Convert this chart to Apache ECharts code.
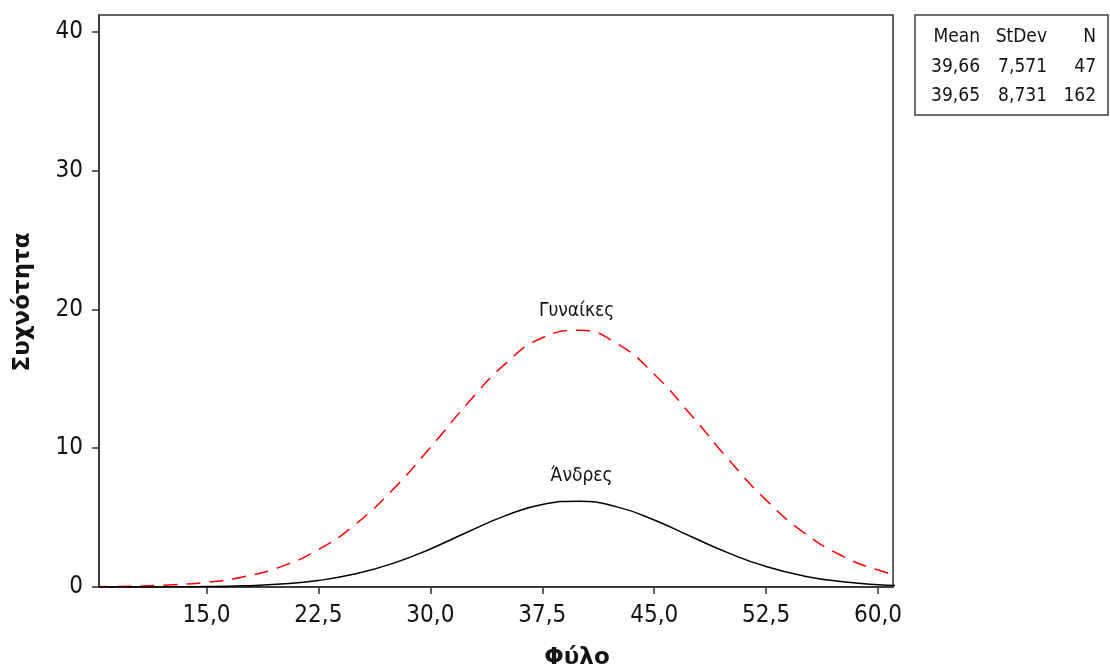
<!DOCTYPE html>
<html>
<head>
<meta charset="utf-8">
<title>Συχνότητα ανά Φύλο</title>
<script src="https://cdn.jsdelivr.net/npm/echarts@6/dist/echarts.min.js"></script>
<style>
  html, body { margin: 0; padding: 0; background: #fff; }
  #chart { width: 1110px; height: 671px; }
</style>
</head>
<body>
<div id="chart"></div>
<script>
// Ages at which the fitted frequency curves are sampled
const ages = [7.5, 10, 12.5, 15, 17.5, 20, 22.5, 25, 27.5, 30, 32.5, 35, 37.5,
              40, 42.5, 45, 47.5, 50, 52.5, 55, 57.5, 60, 62.5];

// Fitted frequency (bin width 2.5) for each group
const womenFreq = [0.02, 0.06, 0.15, 0.34, 0.74, 1.47, 2.69, 4.53, 7.03, 10.04, 13.23, 16.05, 17.95,
                   18.49, 17.54, 15.33, 12.35, 9.16, 6.26, 3.94, 2.29, 1.22, 0.60];
const menFreq = [0.00, 0.00, 0.01, 0.03, 0.09, 0.21, 0.47, 0.95, 1.70, 2.74, 3.96, 5.12, 5.94,
                 6.18, 5.77, 4.83, 3.62, 2.44, 1.47, 0.80, 0.39, 0.17, 0.07];

const seriesNames = ['Γυναίκες', 'Άνδρες'];

// Axis ticks
const xTicks = [15, 22.5, 30, 37.5, 45, 52.5, 60];
const yTicks = [0, 10, 20, 30, 40];

// Summary table
const statsHeader = ['Mean', 'StDev', 'N'];
const statsRows = [
  ['39,66', '7,571', '47'],
  ['39,65', '8,731', '162']
];

const FONT = "'DejaVu Sans Condensed', 'DejaVu Sans', sans-serif";
const TITLE_FONT = "'DejaVu Sans', sans-serif";
const AXIS_COLOR = '#333333';
const TEXT_COLOR = '#141414';

// Build [x, y] points; the peak point carries the curve's name as its label
function buildData(values, name, distance, dx) {
  let peak = 0;
  values.forEach((v, i) => { if (v > values[peak]) peak = i; });
  return values.map((v, i) => {
    const item = { value: [ages[i], v] };
    if (i === peak) {
      item.label = {
        show: true, position: 'top', distance: distance, offset: [dx, 0],
        formatter: name, fontFamily: FONT, fontSize: 19, color: TEXT_COLOR
      };
    }
    return item;
  });
}

// Summary table in the top-right corner
const tableCols = [980, 1047, 1096];     // right edges of the three columns
const tableRowsY = [37, 67, 96];
const tableChildren = [{
  type: 'rect',
  shape: { x: 915, y: 15, width: 193, height: 100 },
  style: { fill: '#fff', stroke: '#404040', lineWidth: 1.5 }
}];
[statsHeader].concat(statsRows).forEach((row, r) => {
  row.forEach((txt, c) => {
    tableChildren.push({
      type: 'text',
      x: tableCols[c], y: tableRowsY[r],
      style: {
        text: txt, fontFamily: FONT, fontSize: 19, fill: TEXT_COLOR,
        align: 'right', verticalAlign: 'middle'
      }
    });
  });
});

const chart = echarts.init(document.getElementById('chart'), null, { renderer: 'canvas' });

chart.setOption({
  animation: false,
  backgroundColor: '#fff',
  grid: {
    left: 99, right: 217, top: 15, bottom: 84,
    show: true, borderColor: AXIS_COLOR, borderWidth: 1.5, backgroundColor: 'transparent'
  },
  xAxis: {
    type: 'value', min: 7.8, max: 61,
    axisLine: { onZero: false, lineStyle: { color: AXIS_COLOR, width: 1.5 } },
    axisTick: { customValues: xTicks, length: 7, lineStyle: { color: AXIS_COLOR, width: 1.5 } },
    axisLabel: {
      customValues: xTicks, margin: 17,
      formatter: v => v.toFixed(1).replace('.', ','),
      fontFamily: FONT, fontSize: 24, color: TEXT_COLOR
    },
    splitLine: { show: false }
  },
  yAxis: {
    type: 'value', min: 0, max: 41.2,
    axisLine: { onZero: false, lineStyle: { color: AXIS_COLOR, width: 1.5 } },
    axisTick: { customValues: yTicks, length: 7, lineStyle: { color: AXIS_COLOR, width: 1.5 } },
    axisLabel: {
      customValues: yTicks, margin: 16,
      formatter: v => String(v),
      fontFamily: FONT, fontSize: 24, color: TEXT_COLOR
    },
    splitLine: { show: false }
  },
  graphic: [
    {
      type: 'text', x: 23, y: 302, rotation: Math.PI / 2,
      style: {
        text: 'Συχνότητα', fontFamily: TITLE_FONT, fontSize: 23, fontWeight: 'bold',
        fill: TEXT_COLOR, align: 'center', verticalAlign: 'middle'
      }
    },
    {
      type: 'text', x: 577, y: 658,
      style: {
        text: 'Φύλο', fontFamily: TITLE_FONT, fontSize: 23, fontWeight: 'bold',
        fill: TEXT_COLOR, align: 'center', verticalAlign: 'middle'
      }
    },
    { type: 'group', children: tableChildren }
  ],
  series: [
    {
      name: seriesNames[0], type: 'line', smooth: true, silent: true,
      symbol: 'circle', symbolSize: 0, showSymbol: true,
      clip: true,
      lineStyle: { color: '#ff0000', width: 1.5, type: [14, 9] },
      itemStyle: { color: '#ff0000' },
      data: buildData(womenFreq, seriesNames[0], 10, -3)
    },
    {
      name: seriesNames[1], type: 'line', smooth: true, silent: true,
      symbol: 'circle', symbolSize: 0, showSymbol: true,
      clip: true,
      lineStyle: { color: '#000000', width: 1.5 },
      itemStyle: { color: '#000000' },
      data: buildData(menFreq, seriesNames[1], 16, 2)
    }
  ]
});
</script>
</body>
</html>
